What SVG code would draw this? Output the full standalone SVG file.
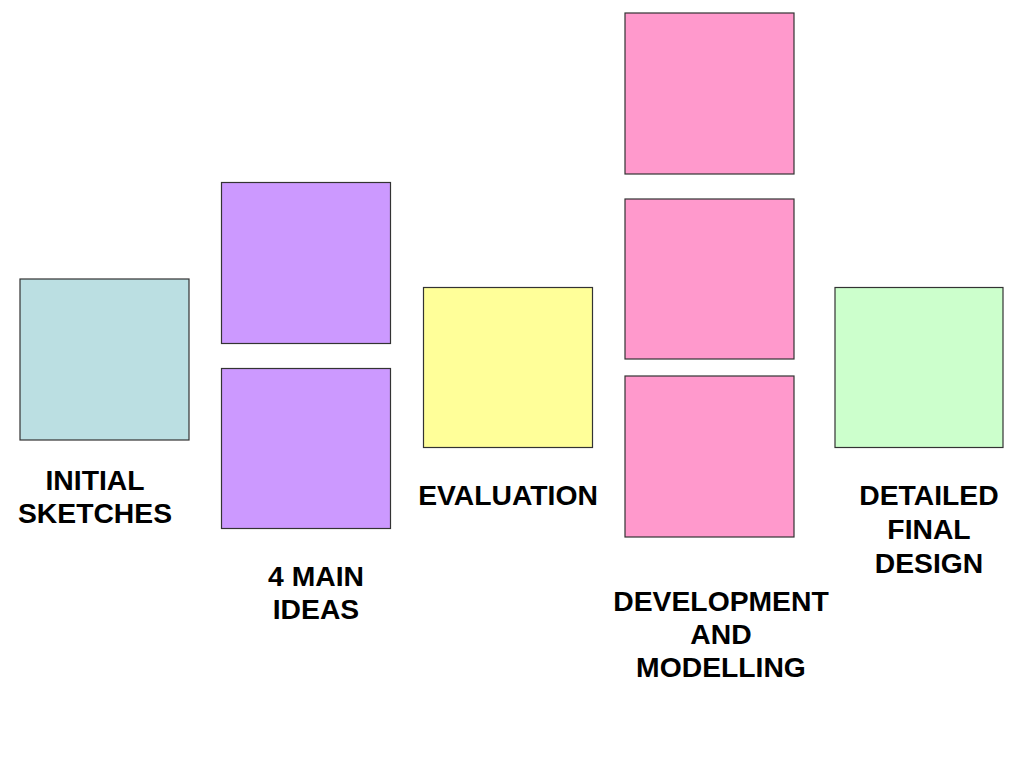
<svg xmlns="http://www.w3.org/2000/svg" width="1024" height="768" viewBox="0 0 1024 768">
<style>
.box{stroke:#333;stroke-width:1.2}
.lbl{font-family:"Liberation Sans",Arial,sans-serif;font-weight:bold;font-size:28.3px;fill:#000;text-anchor:middle}
</style>
<rect width="1024" height="768" fill="#fff"/>
<g id="connectors"></g>
<g id="initial-sketches">
<rect class="box" x="20" y="279" width="169" height="161" fill="#bbdfe2"/>
<text class="lbl" x="95" y="490">INITIAL</text>
<text class="lbl" x="95" y="523">SKETCHES</text>
</g>
<g id="main-ideas">
<rect class="box" x="221.5" y="182.5" width="169" height="161" fill="#cc99ff"/>
<rect class="box" x="221.5" y="368.5" width="169" height="160" fill="#cc99ff"/>
<text class="lbl" x="316" y="586">4 MAIN</text>
<text class="lbl" x="316" y="619">IDEAS</text>
</g>
<g id="evaluation">
<rect class="box" x="423.5" y="287.5" width="169" height="160" fill="#ffff99"/>
<text class="lbl" x="508" y="505">EVALUATION</text>
</g>
<g id="development">
<rect class="box" x="625" y="13" width="169" height="161" fill="#ff99cc"/>
<rect class="box" x="625" y="199" width="169" height="160" fill="#ff99cc"/>
<rect class="box" x="625" y="376" width="169" height="161" fill="#ff99cc"/>
<text class="lbl" x="721" y="611">DEVELOPMENT</text>
<text class="lbl" x="721" y="644">AND</text>
<text class="lbl" x="721" y="677">MODELLING</text>
</g>
<g id="final-design">
<rect class="box" x="835" y="287.5" width="168" height="160" fill="#ccffcc"/>
<text class="lbl" x="929" y="505">DETAILED</text>
<text class="lbl" x="929" y="539">FINAL</text>
<text class="lbl" x="929" y="573">DESIGN</text>
</g>
</svg>
